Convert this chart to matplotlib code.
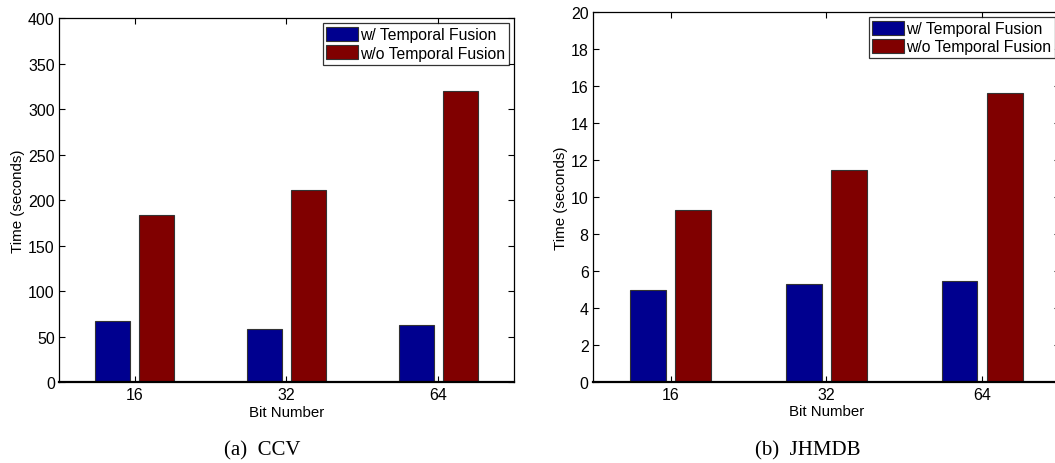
import matplotlib
matplotlib.use("Agg")
from matplotlib import pyplot as plt
import numpy as np

# data
bits = ["16", "32", "64"]
series = ["w/ Temporal Fusion", "w/o Temporal Fusion"]
ccv_with = [67, 58.5, 62.5]
ccv_without = [184, 211, 320.5]
jhmdb_with = [4.98, 5.27, 5.47]
jhmdb_without = [9.3, 11.48, 15.61]

blue = "#00008F"
red = "#800000"

plt.rcParams['font.family'] = ['Liberation Sans', 'DejaVu Sans']
plt.rcParams['font.size'] = 11

fig = plt.figure(figsize=(10.55, 4.64), dpi=100)
ax1 = fig.add_axes([0.0559, 0.174, 0.4313, 0.784])
ax2 = fig.add_axes([0.562, 0.1752, 0.4427, 0.796])


def draw(ax, with_tf, without_tf, ymax, yticks):
    x = np.arange(1, len(bits) + 1)
    w = 0.23
    ax.bar(x - 0.145, with_tf, w, color=blue, edgecolor="#333333",
           linewidth=0.8, label=series[0], zorder=2)
    ax.bar(x + 0.145, without_tf, w, color=red, edgecolor="#333333",
           linewidth=0.8, label=series[1], zorder=2)
    ax.set_xlim(0.5, len(bits) + 0.5)
    ax.set_ylim(0, ymax)
    ax.set_xticks(x)
    ax.set_xticklabels(bits)
    ax.set_yticks(yticks)
    ax.tick_params(direction="in", top=True, right=True, length=4,
                   width=0.8, labelsize=11.5)
    ax.tick_params(axis="x", pad=3.5)
    ax.tick_params(axis="y", pad=3)
    for s in ax.spines.values():
        s.set_linewidth(0.9)
    ax.spines["bottom"].set_linewidth(1.6)
    ax.set_xlabel("Bit Number", fontsize=10.8, labelpad=2)
    ax.set_ylabel("Time (seconds)", fontsize=10.9, labelpad=2)
    leg = ax.legend(loc="upper right", fontsize=11.3, frameon=True,
                    fancybox=False, edgecolor="black", handlelength=2.0,
                    handleheight=0.95, handletextpad=0.15, borderpad=0.25,
                    labelspacing=0.2, borderaxespad=0.3)
    leg.get_frame().set_linewidth(0.9)


draw(ax1, ccv_with, ccv_without, 400, range(0, 401, 50))
draw(ax2, jhmdb_with, jhmdb_without, 20, range(0, 21, 2))

fig.text(0.249, 0.029, "(a)  CCV", ha="center", va="center",
         family=["Liberation Serif", "DejaVu Serif"], fontsize=15)
fig.text(0.766, 0.029, "(b)  JHMDB", ha="center", va="center",
         family=["Liberation Serif", "DejaVu Serif"], fontsize=15)

plt.savefig("out.png", dpi=100)
